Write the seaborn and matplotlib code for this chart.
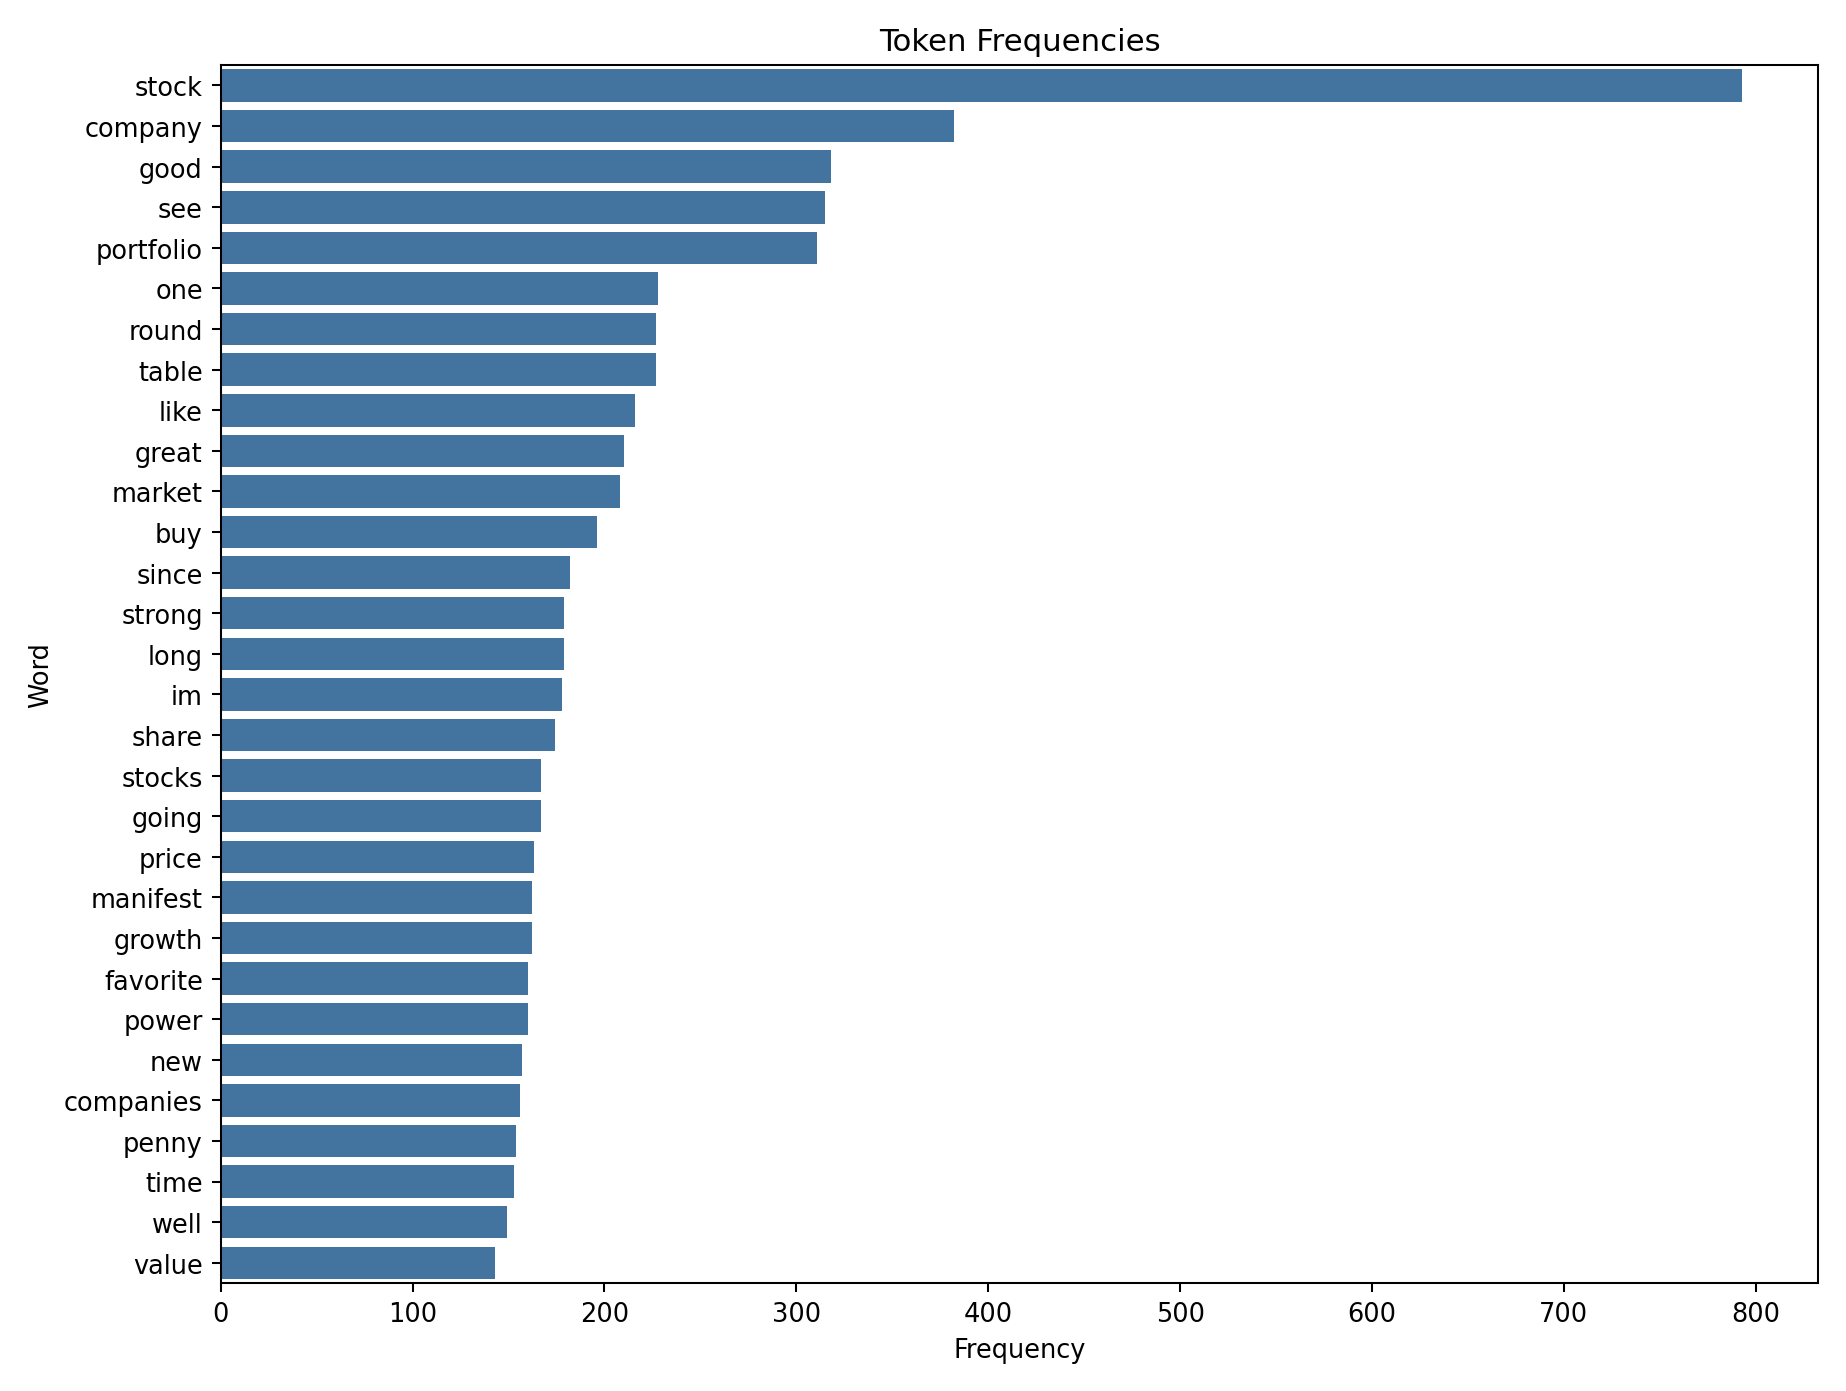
import matplotlib
matplotlib.use("Agg")
import matplotlib.pyplot as plt
import seaborn as sns
import pandas as pd

words = ["stock","company","good","see","portfolio","one","round","table","like","great",
         "market","buy","since","strong","long","im","share","stocks","going","price",
         "manifest","growth","favorite","power","new","companies","penny","time","well","value"]
freqs = [793,382,318,315,311,228,227,227,216,210,
         208,196,182,179,179,178,174,167,167,163,
         162,162,160,160,157,156,154,153,149,143]

df = pd.DataFrame({"Word": words, "Frequency": freqs})
fig, ax = plt.subplots(figsize=(10, 7.54), dpi=184.6)
sns.barplot(data=df, x="Frequency", y="Word", color="#4374a0", saturation=1, ax=ax)
ax.set_title("Token Frequencies")
plt.tight_layout()
fig.savefig("out.png")
